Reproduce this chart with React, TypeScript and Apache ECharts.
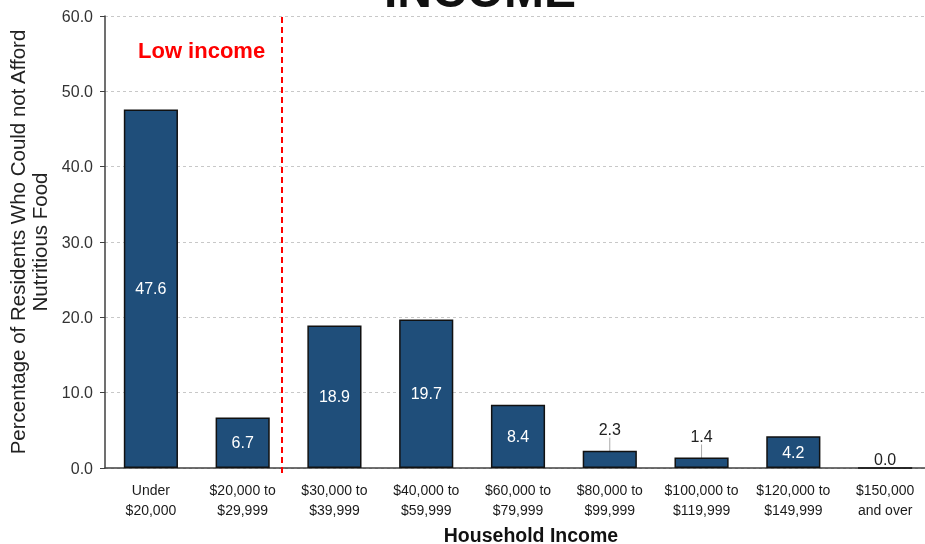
import React, { useEffect, useRef } from "react";
import * as echarts from "echarts";

const categories = [
  "Under\n$20,000",
  "$20,000 to\n$29,999",
  "$30,000 to\n$39,999",
  "$40,000 to\n$59,999",
  "$60,000 to\n$79,999",
  "$80,000 to\n$99,999",
  "$100,000 to\n$119,999",
  "$120,000 to\n$149,999",
  "$150,000\nand over",
];
const values = [47.6, 6.7, 18.9, 19.7, 8.4, 2.3, 1.4, 4.2, 0.0];
const outsideLabel = [false, false, false, false, false, true, true, false, true];
const yTicks = { min: 0, max: 60, interval: 10 };

export default function App() {
  const ref = useRef<HTMLDivElement>(null);
  useEffect(() => {
    document.body.style.margin = "0";
    document.body.style.overflow = "hidden";
    document.documentElement.style.overflow = "hidden";
    if (!ref.current) return;
    const chart = echarts.init(ref.current, null, { renderer: "svg" });
    const font = "Arial, 'Liberation Sans', sans-serif";
    chart.setOption({
      animation: false,
      textStyle: { fontFamily: font },
      grid: {
        left: 105,
        right: -6,
        top: 16,
        bottom: 76,
        containLabel: false,
        outerBoundsMode: "none",
      },
      xAxis: {
        type: "category",
        data: categories,
        axisLine: { lineStyle: { color: "#404040", width: 1.5 } },
        axisTick: { show: false },
        axisLabel: { color: "#1a1a1a", fontSize: 14, lineHeight: 20, margin: 12, interval: 0 },
        name: "Household Income",
        nameLocation: "middle",
        nameGap: 50,
        nameTextStyle: {
          fontSize: 19.5,
          fontWeight: "bold",
          color: "#111",
          lineHeight: 20,
          padding: [0, 0, 0, 26],
        },
      },
      yAxis: {
        type: "value",
        min: yTicks.min,
        max: yTicks.max,
        interval: yTicks.interval,
        axisLine: { show: true, lineStyle: { color: "#404040", width: 1.5 } },
        axisTick: { show: true, length: 5, lineStyle: { color: "#404040" } },
        axisLabel: { color: "#333", fontSize: 16, formatter: (v: number) => v.toFixed(1), margin: 12 },
        splitLine: { lineStyle: { color: "#c8c8c8", type: [3, 3] } },
        name: "Percentage of Residents Who Could not Afford\nNutritious Food",
        nameLocation: "middle",
        nameGap: 50,
        nameTextStyle: { fontSize: 20.5, color: "#222", lineHeight: 22 },
      },
      series: [
        {
          type: "bar",
          barWidth: "59%",
          data: values.map((v, i) => ({
            value: v,
            label: outsideLabel[i]
              ? { position: "top", color: "#222", distance: v > 0 ? 4 : 0 }
              : { position: "inside", color: "#fff" },
          })),
          itemStyle: { color: "#1f4e7a", borderColor: "#111", borderWidth: 1.5 },
          label: {
            show: true,
            fontSize: 16,
            formatter: (p: any) => Number(p.value).toFixed(1),
          },
          labelLine: { show: true, lineStyle: { color: "#aaa", width: 1 } },
          labelLayout: (p: any) => {
            const i = p.dataIndex;
            if (outsideLabel[i] && values[i] > 0) return { dy: -9 };
            return {};
          },
        },
      ],
      graphic: [
        {
          type: "line",
          shape: { x1: 282, y1: 17, x2: 282, y2: 474 },
          style: { stroke: "#ff0000", lineWidth: 2, lineDash: [6, 4] },
          z: 100,
        },
        {
          type: "text",
          x: 138,
          y: 50,
          style: {
            text: "Low income",
            fill: "#ff0000",
            font: `bold 22px ${font}`,
            verticalAlign: "middle",
            align: "left",
          },
        },
        {
          type: "text",
          x: 480,
          y: 14,
          style: {
            text: "INCOME",
            fill: "#111",
            font: `bold 48px ${font}`,
            verticalAlign: "bottom",
            align: "center",
          },
        },
      ],
    });
    return () => chart.dispose();
  }, []);
  return (
    <div
      ref={ref}
      style={{ position: "fixed", left: 0, top: 0, width: 925, height: 544, overflow: "hidden" }}
    />
  );
}
